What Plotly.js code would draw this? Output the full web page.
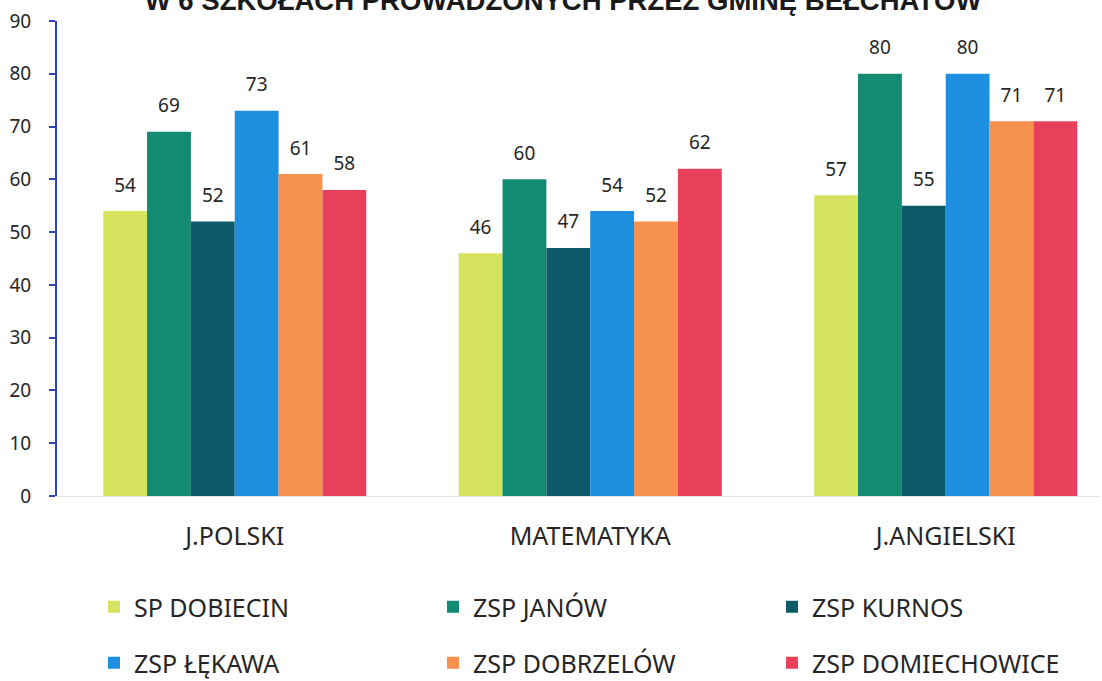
<!DOCTYPE html>
<html>
<head>
<meta charset="utf-8">
<script src="https://cdn.plot.ly/plotly-3.0.1.min.js"></script>
<style>html,body{margin:0;padding:0;background:#fff;}#chart{width:1102px;height:681px;}</style>
</head>
<body>
<div id="chart"></div>
<script>
const categories = ["J.POLSKI", "MATEMATYKA", "J.ANGIELSKI"];
const schools = ["SP DOBIECIN", "ZSP JANÓW", "ZSP KURNOS", "ZSP ŁĘKAWA", "ZSP DOBRZELÓW", "ZSP DOMIECHOWICE"];
const spDobiecin = [54, 46, 57];
const zspJanow = [69, 60, 80];
const zspKurnos = [52, 47, 55];
const zspLekawa = [73, 54, 80];
const zspDobrzelow = [61, 52, 71];
const zspDomiechowice = [58, 62, 71];
const seriesValues = [spDobiecin, zspJanow, zspKurnos, zspLekawa, zspDobrzelow, zspDomiechowice];
const colors = ["#D6E35F", "#138A72", "#0D5A6B", "#1F8FE0", "#F7914F", "#E8405A"];
const yTicks = [0, 10, 20, 30, 40, 50, 60, 70, 80, 90];
const titleText = "W 6 SZKOŁACH PROWADZONYCH PRZEZ GMINĘ BEŁCHATÓW";

const FONT = "Noto Sans, Open Sans, sans-serif";
const GAP = 0.26;
const legendNames = ["legend", "legend2", "legend3", "legend4", "legend5", "legend6"];
const legendX = [94, 433, 772];      // left edge of each legend column, px
const legendY = [607, 663];          // centre of each legend row, px

const traces = [];
seriesValues.forEach((vals, i) => {
  traces.push({
    type: "bar",
    name: schools[i],
    x: categories,
    y: vals,
    marker: {color: colors[i]},
    offsetgroup: "g" + i,
    legend: legendNames[i],
    hoverinfo: "y+name"
  });
});
seriesValues.forEach((vals, i) => {
  traces.push({
    type: "scatter",
    mode: "markers+text",
    x: categories,
    y: vals,
    text: vals.map(String),
    textposition: "top center",
    textfont: {family: FONT, size: 19, color: "#262626"},
    marker: {size: 22, opacity: 0, color: colors[i]},
    offsetgroup: "g" + i,
    showlegend: false,
    hoverinfo: "skip",
    cliponaxis: false
  });
});

const layout = {
  width: 1102,
  height: 681,
  margin: {l: 57, r: 2, t: 21, b: 185},
  paper_bgcolor: "#ffffff",
  plot_bgcolor: "#ffffff",
  barmode: "group",
  bargap: GAP,
  bargroupgap: 0,
  scattermode: "group",
  scattergap: GAP,
  font: {family: FONT, color: "#262626"},
  title: {
    text: titleText,
    font: {family: "Liberation Sans, Arial, sans-serif", size: 27.5, color: "#1a1a1a", weight: "bold"},
    xref: "container", x: 0.511, xanchor: "center",
    yref: "container", y: 1, yanchor: "middle"
  },
  xaxis: {
    type: "category",
    range: [-0.5, 2.434],
    showgrid: false,
    zeroline: false,
    showline: true,
    linecolor: "#e4e4e4",
    linewidth: 1,
    ticks: "",
    ticklabelstandoff: 18,
    tickfont: {family: FONT, size: 25, color: "#262626"},
    fixedrange: true
  },
  yaxis: {
    range: [0, 90],
    tickvals: yTicks,
    showgrid: false,
    zeroline: false,
    showline: true,
    linecolor: "#2F45B5",
    linewidth: 2,
    ticks: "outside",
    ticklen: 6,
    tickwidth: 2,
    tickcolor: "#2F45B5",
    ticklabelstandoff: 14,
    tickfont: {family: FONT, size: 19, color: "#262626"},
    fixedrange: true
  },
  showlegend: true
};

legendNames.forEach((name, i) => {
  layout[name] = {
    orientation: "h",
    xref: "container", yref: "container",
    x: legendX[i % 3] / 1102, xanchor: "left",
    y: 1 - legendY[Math.floor(i / 3)] / 681, yanchor: "middle",
    font: {family: FONT, size: 25, color: "#262626"},
    bgcolor: "rgba(0,0,0,0)"
  };
});

Plotly.newPlot("chart", traces, layout, {displayModeBar: false, staticPlot: true});
</script>
</body>
</html>
